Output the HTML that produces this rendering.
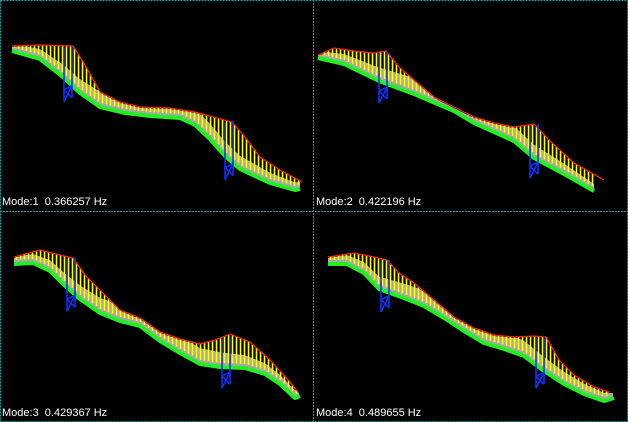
<!DOCTYPE html>
<html><head><meta charset="utf-8"><style>
html,body{margin:0;padding:0;background:#000;}
svg{display:block}
text{font-family:"Liberation Sans",sans-serif;font-size:11px;fill:#fff;white-space:pre}
</style></head><body>
<svg id="chart" width="628" height="422" viewBox="0 0 628 422" xmlns="http://www.w3.org/2000/svg">
<rect x="0" y="0" width="628" height="422" fill="#000"/>
<g id="panels"></g>
<g stroke="#1aa0a0" stroke-width="1" stroke-dasharray="2,1" fill="none">
<rect x="0.5" y="0.5" width="627" height="421"/>
<line x1="313.5" y1="0" x2="313.5" y2="422"/>
<line x1="0" y1="211.5" x2="628" y2="211.5"/>
</g>
</svg>
<script>
// Mode 1
const mode1X = [12,40,63,80,100,125,150,180,195,210,225,240,270,295,300];
const mode1Deck = [50,58,76,92,106,112,115,117,124,138,155,168,182,189,188];
const mode1CableX = [12,40,73,85,100,120,140,170,195,232,245,260,280,302];
const mode1Cable = [46,45,46,65,92,102,107,108,112,122,137,157,170,182];
const mode1Towers = [67,228];
// Mode 2
const mode2X = [4,30,65,100,140,160,200,220,250,280];
const mode2Deck = [57,63,80,93,110,122,140,157,173,190];
const mode2CableX = [4,20,40,60,72,85,100,120,140,160,180,200,220,235,260,290];
const mode2Cable = [55,48,51,53,51,67,80,97,107,117,123,127,124,140,163,180];
const mode2Towers = [68,219];
// Mode 3
const mode3X = [14,33,50,63,80,100,120,140,160,180,200,220,245,265,280,295,300];
const mode3Deck = [52,51,59,72,87,101,109,114,129,141,152,155,156,162,172,186,184];
const mode3CableX = [14,40,60,73,85,100,120,140,160,180,200,215,230,250,270,290,298];
const mode3Cable = [46,39,44,47,64,79,99,107,121,128,133,129,123,131,149,171,181];
const mode3Towers = [70,225];
// Mode 4
const mode4X = [14,33,50,65,90,110,130,150,170,190,210,230,250,270,290,300];
const mode4Deck = [52,52,61,77,86,94,106,119,131,137,144,159,172,182,189,186];
const mode4CableX = [14,40,60,73,85,100,120,140,160,180,200,220,232,245,260,280,295];
const mode4Cable = [46,42,46,49,62,72,89,106,117,124,126,125,126,149,164,176,181];
const mode4Towers = [70,225];
const modeLabels = ["Mode:1  0.366257 Hz","Mode:2  0.422196 Hz","Mode:3  0.429367 Hz","Mode:4  0.489655 Hz"];

const NS = "http://www.w3.org/2000/svg";
const modes = [
  {x:mode1X,d:mode1Deck,cx:mode1CableX,c:mode1Cable,t:mode1Towers,ox:0,oy:0},
  {x:mode2X,d:mode2Deck,cx:mode2CableX,c:mode2Cable,t:mode2Towers,ox:314,oy:0},
  {x:mode3X,d:mode3Deck,cx:mode3CableX,c:mode3Cable,t:mode3Towers,ox:0,oy:211},
  {x:mode4X,d:mode4Deck,cx:mode4CableX,c:mode4Cable,t:mode4Towers,ox:314,oy:211}
];
function interp(xs, ys, x){
  if (x <= xs[0]) return ys[0];
  for (let i=1;i<xs.length;i++){
    if (x <= xs[i]){ const t=(x-xs[i-1])/(xs[i]-xs[i-1]); return ys[i-1]+t*(ys[i]-ys[i-1]); }
  }
  return ys[ys.length-1];
}
function mk(tag, attrs, parent){
  const e=document.createElementNS(NS,tag);
  for (const k in attrs) e.setAttribute(k, attrs[k]);
  parent.appendChild(e); return e;
}
const root=document.getElementById('panels');
modes.forEach((m,idx)=>{
  const sx = v => m.ox + v;
  const sy = v => m.oy + v;
  const g=mk('g',{},root);
  
  
  // grey deck band (thicker mid-span, never above the cable)
  const xa=m.x[0], xb=m.x[m.x.length-1];
  let top=[], bot=[];
  for (let x=xa; x<=xb; x+=3){
    const f=(x-xa)/(xb-xa);
    const h=6+10*Math.sin(Math.PI*f);
    const d=interp(m.x,m.d,x), c=interp(m.cx,m.c,x);
    const ty=Math.min(d-2, Math.max(d-h, c+1));
    top.push(sx(x)+','+sy(ty)); bot.push(sx(x)+','+sy(d));
  }
  const band=mk('polygon',{points:top.concat(bot.reverse()).join(' '),fill:'#a8a8a8'},g);
  
  
  // hangers
  const hg=mk('g',{stroke:'#ffff00','stroke-width':1.6},g);
  
  
  const x0=Math.max(m.x[0],m.cx[0]), x1=Math.min(m.x[m.x.length-1],m.cx[m.cx.length-1]);
  for (let x=x0+2;x<x1;x+=4){
    const cy=interp(m.cx,m.c,x), dy=interp(m.x,m.d,x)-3;
    if (dy-cy>1) mk('line',{x1:sx(x)+0.5,y1:sy(cy),x2:sx(x)+0.5,y2:sy(dy)},hg);
  }
  // cable
  const cp=m.cx.map((x,i)=>sx(x)+','+sy(m.c[i])).join(' ');
  const cab=mk('polyline',{points:cp,fill:'none',stroke:'#ff2020','stroke-width':1.2},g);
  
  
  // deck
  const dp=m.x.map((x,i)=>sx(x)+','+sy(m.d[i]+1)).join(' ');
  const deck=mk('polyline',{points:dp,fill:'none',stroke:'#22ee22','stroke-width':4,'stroke-linejoin':'round'},g);
  
  
  // towers (drawn on top)
  m.t.forEach((tx,ti)=>{
    const top=interp(m.cx,m.c,tx), base=interp(m.x,m.d,tx)+22;
    const tg=mk('g',{stroke:'#1030ff','stroke-width':1.6,fill:'none'},g);
    
    
    mk('line',{x1:sx(tx-3),y1:sy(top+2),x2:sx(tx-3),y2:sy(base)},tg);
    mk('line',{x1:sx(tx+5),y1:sy(top),x2:sx(tx+5),y2:sy(base-4)},tg);
    const bm=base-12;
    mk('line',{x1:sx(tx-3),y1:sy(bm),x2:sx(tx+5),y2:sy(base-4)},tg);
    mk('line',{x1:sx(tx+5),y1:sy(bm-4),x2:sx(tx-3),y2:sy(base)},tg);
    mk('line',{x1:sx(tx-3),y1:sy(bm),x2:sx(tx+5),y2:sy(bm-4)},tg);
  });
  // label
  const t=mk('text',{x:m.ox+2,y:m.oy+205},g);
  t.textContent=modeLabels[idx];
  
  
});
</script>
</body></html>
